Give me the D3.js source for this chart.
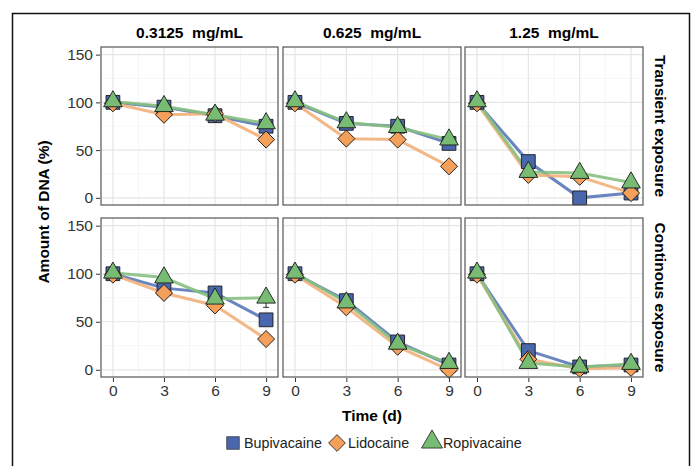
<!DOCTYPE html>
<html>
<head>
<meta charset="utf-8">
<script src="https://cdn.jsdelivr.net/npm/d3@7"></script>
<style>
  body { margin: 0; background: #fff; }
  svg text { font-family: "Liberation Sans", Arial, sans-serif; }
</style>
</head>
<body>
<div class="chart"></div>
<script>
const days = [0, 3, 6, 9];
const concentrations = ['0.3125  mg/mL', '0.625  mg/mL', '1.25  mg/mL'];
const exposures = ['Transient exposure', 'Continous exposure'];
const drugs = ['Bupivacaine', 'Lidocaine', 'Ropivacaine'];
const yTicks = [0, 50, 100, 150];

// values [exposure][concentration][day]
const bupivacaine = [
  [[100, 95, 86, 75], [100, 78, 75, 57], [100, 38, 0, 5]],
  [[100, 85, 80, 52], [100, 72, 29, 5], [100, 20, 3, 5]]
];
const lidocaine = [
  [[99, 87, 88, 61], [99, 62, 61, 33], [99, 24, 22, 5]],
  [[99, 80, 67, 32], [99, 65, 24, 0], [99, 11, 1, 2]]
];
const ropivacaine = [
  [[101, 96, 87, 78], [101, 79, 74, 61], [101, 27, 26, 16]],
  [[101, 96, 74, 75], [101, 70, 27, 7], [101, 7, 3, 6]]
];
const ropivacaineErr = [
  [[2, 3, 3, 4], [2, 3, 3, 3], [2, 3, 3, 3]],
  [[2, 3, 3, 10], [2, 3, 3, 2], [2, 2, 2, 2]]
];

const series = [bupivacaine, lidocaine, ropivacaine];
const colors = ['#4a67ad', '#f4a05a', '#78bb73'];
const lineColors = ['#5a78b8', '#f2b07a', '#86c07f'];

const w = 694, h = 466;
const cols = [[101, 278], [283, 461], [465, 643]];
const rows = [[47, 205], [218, 377]];

const svg = d3.select('div.chart').append('svg')
  .attr('width', w).attr('height', h);

svg.append('rect').attr('x', 12.5).attr('y', 13.5).attr('width', 677).attr('height', 460)
  .attr('fill', 'none').attr('stroke', '#111').attr('stroke-width', 1.5);

function shape(i) {
  if (i === 0) return d3.symbol(d3.symbolSquare, 190)();
  if (i === 1) return d3.symbol(d3.symbolSquare, 145)();
  return d3.symbol(d3.symbolTriangle, 150)();
}

rows.forEach((ry, r) => {
  cols.forEach((cx, c) => {
    const x = d3.scaleLinear().domain([-0.7, 9.7]).range(cx);
    const y = d3.scaleLinear().domain([-7.5, 158]).range([ry[1], ry[0]]);
    const g = svg.append('g');

    g.append('rect').attr('x', cx[0]).attr('y', ry[0])
      .attr('width', cx[1] - cx[0]).attr('height', ry[1] - ry[0]).attr('fill', '#fff');

    // minor grid
    [25, 75, 125].forEach(v => g.append('line').attr('x1', cx[0]).attr('x2', cx[1])
      .attr('y1', y(v)).attr('y2', y(v)).attr('stroke', '#f4f4f4').attr('stroke-width', 0.8));
    [1.5, 4.5, 7.5].forEach(v => g.append('line').attr('y1', ry[0]).attr('y2', ry[1])
      .attr('x1', x(v)).attr('x2', x(v)).attr('stroke', '#f4f4f4').attr('stroke-width', 0.8));
    // major grid
    yTicks.forEach(v => g.append('line').attr('x1', cx[0]).attr('x2', cx[1])
      .attr('y1', y(v)).attr('y2', y(v)).attr('stroke', '#e6e6e6').attr('stroke-width', 1.2));
    days.forEach(v => g.append('line').attr('y1', ry[0]).attr('y2', ry[1])
      .attr('x1', x(v)).attr('x2', x(v)).attr('stroke', '#e6e6e6').attr('stroke-width', 1.2));

    // lines
    series.forEach((s, i) => {
      const line = d3.line().x((d, k) => x(days[k])).y(d => y(d));
      g.append('path').datum(s[r][c]).attr('d', line)
        .attr('fill', 'none').attr('stroke', lineColors[i]).attr('stroke-width', 3)
        .attr('stroke-opacity', 0.9);
    });

    // error bars (ropivacaine)
    ropivacaine[r][c].forEach((v, k) => {
      const e = ropivacaineErr[r][c][k];
      g.append('line').attr('x1', x(days[k])).attr('x2', x(days[k]))
        .attr('y1', y(v - e)).attr('y2', y(v + e)).attr('stroke', '#333').attr('stroke-width', 1);
      g.append('line').attr('x1', x(days[k]) - 3).attr('x2', x(days[k]) + 3)
        .attr('y1', y(v - e)).attr('y2', y(v - e)).attr('stroke', '#333').attr('stroke-width', 1);
    });

    // points
    series.forEach((s, i) => {
      g.selectAll(null).data(s[r][c]).enter().append('path')
        .attr('d', shape(i))
        .attr('transform', (d, k) => 'translate(' + x(days[k]) + ',' + y(d) + ')' + (i === 1 ? ' rotate(45)' : ''))
        .attr('fill', colors[i]).attr('stroke', '#1a1a1a').attr('stroke-width', 0.9);
    });

    g.append('rect').attr('x', cx[0]).attr('y', ry[0])
      .attr('width', cx[1] - cx[0]).attr('height', ry[1] - ry[0])
      .attr('fill', 'none').attr('stroke', '#555').attr('stroke-width', 1.2);

    if (c === 0) {
      const yAxis = d3.axisLeft(y).tickValues(yTicks).tickSize(4).tickPadding(3);
      const ag = svg.append('g').attr('transform', 'translate(' + (cx[0] - 1) + ',0)').call(yAxis);
      ag.select('.domain').remove();
      ag.selectAll('text').attr('font-size', 15.5).attr('fill', '#333')
        .style('font-family', '"Liberation Sans", Arial, sans-serif');
      ag.selectAll('line').attr('stroke', '#333');
    }
    if (r === 1) {
      const xAxis = d3.axisBottom(x).tickValues(days).tickSize(4).tickPadding(3);
      const ag = svg.append('g').attr('transform', 'translate(0,' + (ry[1] + 1) + ')').call(xAxis);
      ag.select('.domain').remove();
      ag.selectAll('text').attr('font-size', 15.5).attr('fill', '#333')
        .style('font-family', '"Liberation Sans", Arial, sans-serif');
      ag.selectAll('line').attr('stroke', '#333');
    }
    if (r === 0) {
      svg.append('text').attr('x', (cx[0] + cx[1]) / 2).attr('y', 38)
        .attr('text-anchor', 'middle').attr('font-size', 15.5).attr('font-weight', 'bold')
        .style('white-space', 'pre').text(concentrations[c]);
    }
  });
  svg.append('text')
    .attr('transform', 'translate(655,' + ((ry[0] + ry[1]) / 2) + ') rotate(90)')
    .attr('text-anchor', 'middle').attr('font-size', 15.5).attr('font-weight', 'bold')
    .text(exposures[r]);
});

svg.append('text').attr('x', 372).attr('y', 421).attr('text-anchor', 'middle')
  .attr('font-size', 15.5).attr('font-weight', 'bold').text('Time (d)');
svg.append('text').attr('transform', 'translate(49,212) rotate(-90)').attr('text-anchor', 'middle')
  .attr('font-size', 15.5).attr('font-weight', 'bold').text('Amount of DNA (%)');

// legend
const legendX = [233, 337, 432];
drugs.forEach((d, i) => {
  const size = i === 0 ? 160 : (i === 1 ? 140 : 190);
  svg.append('path')
    .attr('d', i === 2 ? d3.symbol(d3.symbolTriangle, size)() : d3.symbol(d3.symbolSquare, size)())
    .attr('transform', 'translate(' + legendX[i] + ',' + (i === 2 ? 442 : 443) + ')' + (i === 1 ? ' rotate(45)' : ''))
    .attr('fill', colors[i]).attr('stroke', i === 0 ? '#444' : '#1a1a1a').attr('stroke-width', 0.8);
  svg.append('text').attr('x', legendX[i] + 11).attr('y', 448).attr('font-size', 14.3)
    .attr('fill', '#222').text(d);
});
</script>
</body>
</html>
